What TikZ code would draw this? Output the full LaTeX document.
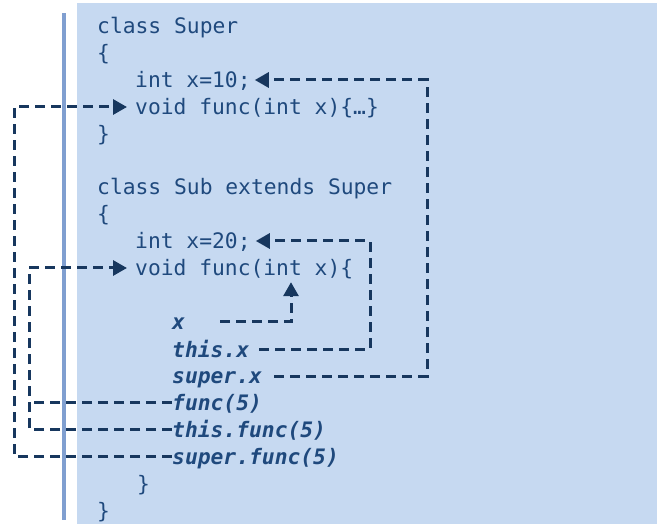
\documentclass[tikz,border=0pt]{standalone}
\usepackage{fontspec}
\setmonofont{DejaVu Sans Mono}
\usetikzlibrary{arrows.meta}
\definecolor{bg}{HTML}{C6D9F1}
\definecolor{barc}{HTML}{809FD0}
\definecolor{txt}{HTML}{1F497D}
\definecolor{arr}{HTML}{17375E}
\begin{document}
\begin{tikzpicture}[x=1pt,y=-1pt,
  code/.style={anchor=base west, inner sep=0pt, text=txt,
    font=\ttfamily\fontsize{21.3}{26}\selectfont, text height=16pt, text depth=0pt},
  ital/.style={code, font=\ttfamily\bfseries\itshape\fontsize{21.3}{26}\selectfont},
  conn/.style={draw=arr, line width=3pt, dash pattern=on 10pt off 6pt},
  tip/.style={-{Triangle[length=14pt,width=15pt]}}]
\useasboundingbox (0,0) rectangle (657,524);
\fill[bg] (77,3) rectangle (657,524);
\fill[barc] (62,13) rectangle (66,520);
% code lines
\node[code] (l0) at (97,34) {class Super};
\node[code] (l1) at (97,61) {\{};
\node[code] (x1) at (135,88) {int x=10;};
\node[code] (f1) at (135,115) {void func(int x)\{…\}};
\node[code] (l4) at (97,142) {\}};
\node[code] (l6) at (97,195) {class Sub extends Super};
\node[code] (l7) at (97,222) {\{};
\node[code] (x2) at (135,249) {int x=20;};
\node[code] (f2) at (135,276) {void func(int x)\{};
\node[ital] (cx) at (172,330) {x};
\node[ital] (tx) at (172,357) {this.x};
\node[ital] (sx) at (172,384) {super.x};
\node[ital] (cf) at (172,410) {func(5)};
\node[ital] (tf) at (172,437) {this.func(5)};
\node[ital] (sf) at (172,464) {super.func(5)};
\node[code] (c1) at (137,491) {\}};
\node[code] (c2) at (97,518) {\}};
% helper columns
\coordinate (r1) at (427,0);
\coordinate (r2) at (370,0);
\coordinate (r3) at (291,0);
\coordinate (q1) at (29,0);
\coordinate (q2) at (14,0);
% connectors
\draw[conn,tip] ([xshift=12pt]sx.east) -- (sx.east -| r1) -- (x1.east -| r1) -- ([xshift=4pt]x1.east);
\draw[conn,tip] ([xshift=10pt]tx.east) -- (tx.east -| r2) -- (x2.east -| r2) -- ([xshift=5pt]x2.east);
\draw[conn,tip] ([xshift=35pt]cx.east) -- (cx.east -| r3) -- ([yshift=-6pt]f2.south -| r3);
\draw[conn,tip] (tf.west) -- (tf.west -| q1) -- (f2.west -| q1) -- ([xshift=-8pt]f2.west);
\draw[conn] (cf.west) -- (cf.west -| q1);
\draw[conn,tip] (sf.west) -- (sf.west -| q2) -- (f1.west -| q2) -- ([xshift=-8pt]f1.west);
\end{tikzpicture}
\end{document}
